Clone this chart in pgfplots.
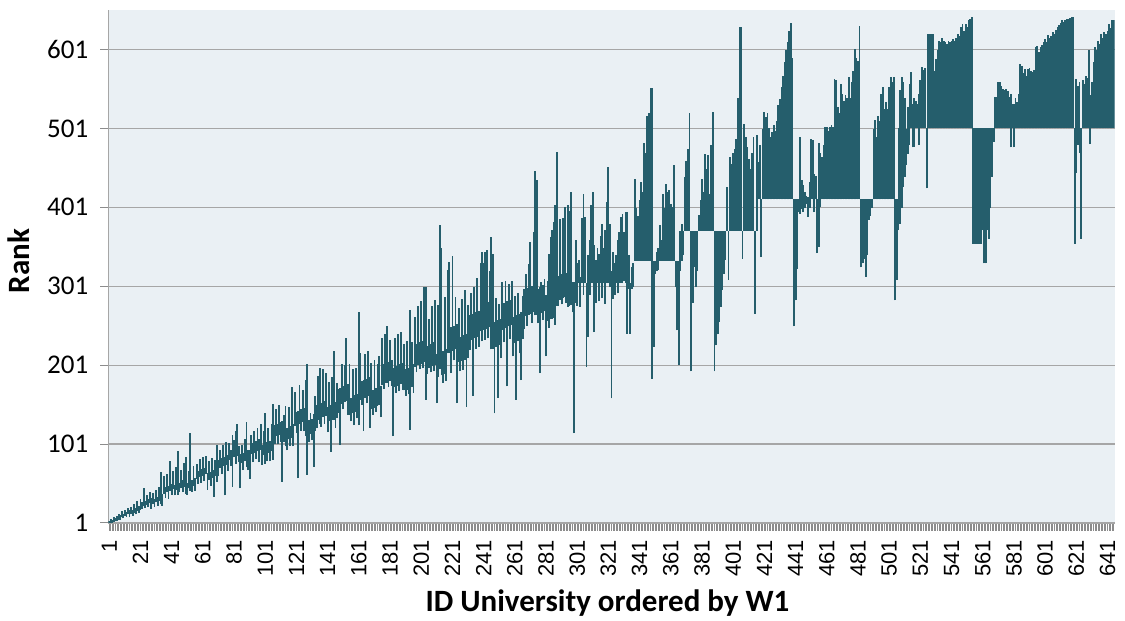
\documentclass[border=0pt]{standalone}
\usepackage{pgfplots}
\pgfplotsset{compat=1.18}
\usepackage{pgfplotstable}
\usepackage{fontspec}
\setmainfont{Carlito}
\newfontfamily\arialf{Liberation Sans}
\definecolor{barc}{HTML}{255E6C}
\definecolor{bgc}{HTML}{EAF0F4}
\definecolor{gridc}{HTML}{A6A6A6}
\definecolor{tickc}{HTML}{8C8C8C}

\pgfplotstableread[row sep=\\]{
lo hi\\
1 3\\ 1 6\\ 1 5\\ 2 9\\ 3 7\\ 3 10\\ 5 12\\
5 11\\ 8 16\\ 7 13\\ 10 18\\ 9 15\\ 12 20\\ 8 17\\
12 21\\ 10 17\\ 14 25\\ 12 20\\ 16 29\\ 14 22\\ 18 32\\
19 27\\ 22 45\\ 20 29\\ 24 36\\ 21 31\\ 26 40\\ 19 33\\
25 39\\ 21 32\\ 27 43\\ 23 34\\ 29 47\\ 25 65\\ 23 38\\
38 60\\ 33 46\\ 40 63\\ 32 48\\ 42 80\\ 37 50\\ 44 67\\
36 49\\ 43 72\\ 37 92\\ 40 52\\ 45 68\\ 40 55\\ 47 77\\
38 85\\ 37 52\\ 45 67\\ 42 115\\ 40 55\\ 48 73\\ 42 58\\
57 76\\ 51 67\\ 59 82\\ 52 69\\ 61 84\\ 54 71\\ 63 86\\
43 64\\ 56 79\\ 48 66\\ 58 83\\ 34 68\\ 60 81\\ 53 100\\
60 81\\ 71 94\\ 63 83\\ 73 100\\ 36 85\\ 75 103\\ 67 87\\
81 102\\ 73 93\\ 47 112\\ 84 106\\ 76 117\\ 86 127\\ 78 99\\
45 88\\ 77 100\\ 68 90\\ 79 108\\ 72 129\\ 68 93\\ 57 94\\
88 112\\ 78 102\\ 90 118\\ 82 105\\ 92 122\\ 78 107\\ 94 126\\
75 100\\ 87 118\\ 76 140\\ 79 103\\ 90 121\\ 79 105\\ 92 127\\
81 152\\ 101 125\\ 111 145\\ 101 127\\ 112 151\\ 104 129\\ 53 130\\
104 138\\ 98 149\\ 93 122\\ 107 148\\ 99 124\\ 109 173\\ 98 126\\
124 167\\ 115 142\\ 58 143\\ 127 176\\ 118 145\\ 129 169\\ 117 147\\
111 182\\ 62 203\\ 104 131\\ 114 140\\ 106 133\\ 72 139\\ 117 162\\
121 150\\ 132 187\\ 127 197\\ 123 153\\ 135 196\\ 127 155\\ 137 191\\
116 148\\ 130 180\\ 91 150\\ 131 186\\ 132 219\\ 122 154\\ 134 178\\
141 171\\ 100 172\\ 152 203\\ 145 174\\ 154 201\\ 155 236\\ 138 177\\
138 203\\ 130 160\\ 140 196\\ 125 163\\ 142 198\\ 134 165\\ 125 268\\
157 217\\ 151 181\\ 118 182\\ 160 215\\ 153 184\\ 162 219\\ 122 186\\
145 204\\ 138 170\\ 147 208\\ 142 172\\ 149 202\\ 150 212\\ 135 175\\
176 235\\ 171 202\\ 178 241\\ 179 251\\ 173 205\\ 181 233\\ 175 208\\
111 198\\ 173 236\\ 166 200\\ 175 240\\ 168 202\\ 177 243\\ 170 204\\
169 228\\ 162 196\\ 170 232\\ 164 198\\ 119 271\\ 173 230\\ 166 202\\
199 262\\ 192 228\\ 201 276\\ 196 230\\ 203 282\\ 198 232\\ 205 300\\
157 300\\ 190 225\\ 198 260\\ 192 228\\ 200 276\\ 194 230\\ 201 284\\
153 215\\ 186 277\\ 196 378\\ 188 349\\ 179 219\\ 190 287\\ 181 221\\
216 321\\ 217 332\\ 191 249\\ 219 339\\ 207 251\\ 221 287\\ 153 253\\
205 273\\ 193 237\\ 206 285\\ 195 239\\ 208 296\\ 148 241\\ 210 277\\
220 264\\ 233 292\\ 162 266\\ 235 300\\ 222 268\\ 237 312\\ 224 270\\
244 330\\ 231 344\\ 246 330\\ 233 344\\ 247 347\\ 235 281\\ 249 320\\
221 364\\ 222 342\\ 140 256\\ 224 286\\ 160 258\\ 226 278\\ 210 260\\
246 306\\ 230 280\\ 248 308\\ 174 282\\ 250 304\\ 234 284\\ 252 308\\
212 262\\ 229 288\\ 157 264\\ 231 292\\ 216 266\\ 182 268\\ 234 288\\
247 297\\ 263 317\\ 251 299\\ 265 329\\ 266 357\\ 255 301\\ 268 370\\
264 447\\ 265 435\\ 254 298\\ 191 300\\ 267 306\\ 258 302\\ 269 310\\
212 290\\ 257 308\\ 248 342\\ 259 364\\ 260 372\\ 261 382\\ 252 404\\
276 471\\ 276 314\\ 284 386\\ 278 316\\ 286 387\\ 287 402\\ 280 318\\
275 404\\ 276 396\\ 277 420\\ 268 306\\ 115 306\\ 280 360\\
276 330\\ 305 334\\ 275 313\\ 305 387\\ 290 418\\ 305 389\\ 199 305\\ 237 340\\ 290 360\\ 305 404\\
305 420\\ 243 353\\ 280 334\\ 305 350\\ 282 342\\ 305 365\\ 286 380\\ 305 350\\ 279 372\\ 305 408\\
305 452\\ 300 380\\ 159 320\\ 285 345\\ 290 330\\ 305 340\\ 292 360\\ 305 370\\ 305 389\\ 305 392\\
307 370\\ 305 395\\ 241 395\\ 298 340\\ 241 305\\ 298 325\\ 300 330\\
333 437\\ 333 400\\ 333 390\\ 333 410\\ 333 433\\ 333 420\\ 333 482\\ 333 470\\ 333 517\\ 333 520\\ 333 552\\
184 552\\ 224 333\\ 317 333\\ 320 345\\ 322 350\\ 333 378\\ 333 360\\ 333 418\\ 333 400\\ 333 431\\
333 420\\ 333 423\\ 333 405\\ 333 401\\ 333 454\\ 300 333\\ 245 333\\ 201 333\\
320 371\\ 333 380\\ 340 371\\ 371 440\\ 371 460\\ 371 475\\ 371 520\\ 193 371\\ 280 371\\ 325 371\\ 300 371\\ 320 371\\
371 391\\ 371 410\\ 371 437\\ 371 420\\ 371 469\\ 371 450\\ 371 467\\ 371 418\\ 371 480\\ 371 522\\
193 371\\ 226 371\\ 240 371\\ 256 371\\ 275 371\\ 296 371\\ 317 371\\ 334 371\\ 371 427\\ 309 371\\
371 465\\ 371 456\\ 371 470\\ 371 475\\ 371 488\\ 371 540\\ 371 630\\ 371 630\\ 336 371\\
371 507\\ 371 490\\ 371 477\\ 371 462\\ 371 450\\ 371 470\\ 371 490\\ 266 371\\ 371 492\\ 411 458\\ 411 480\\ 338 411\\
411 500\\ 411 522\\ 411 515\\ 411 520\\ 411 502\\ 411 490\\ 411 496\\ 411 505\\ 411 498\\ 411 510\\
411 530\\ 411 538\\ 411 553\\ 411 568\\ 411 585\\ 411 600\\ 411 610\\ 411 625\\ 411 634\\ 411 590\\
250 411\\ 283 411\\ 323 411\\ 395 411\\ 393 490\\ 399 435\\ 395 429\\ 400 420\\ 405 415\\ 389 414\\
400 433\\ 411 488\\ 411 486\\ 395 443\\ 411 441\\ 343 411\\ 351 482\\
401 470\\ 411 465\\ 411 480\\ 411 503\\ 411 503\\ 411 498\\ 411 503\\ 411 505\\ 411 503\\ 411 564\\
411 562\\ 411 528\\ 411 520\\ 411 557\\ 411 545\\ 411 536\\ 411 543\\ 411 540\\ 411 566\\ 411 539\\
411 560\\ 411 574\\ 411 602\\ 411 590\\ 411 587\\ 411 631\\
325 411\\ 330 411\\ 336 411\\ 313 411\\ 340 411\\ 385 411\\ 390 411\\ 400 411\\
411 500\\ 411 511\\ 411 490\\ 411 517\\ 411 510\\ 411 545\\ 411 553\\ 411 525\\ 411 534\\ 411 525\\
411 553\\ 411 566\\ 411 560\\ 411 566\\ 283 411\\ 309 411\\
372 501\\ 380 549\\ 400 566\\ 427 560\\ 440 540\\ 455 500\\ 469 528\\ 480 557\\ 501 572\\ 477 532\\
478 540\\ 501 536\\ 501 532\\ 480 545\\ 501 562\\ 501 579\\ 501 575\\ 501 578\\ 425 501\\ 501 621\\
501 621\\ 501 621\\ 501 620\\ 501 574\\ 501 589\\ 501 600\\ 501 612\\ 501 610\\ 501 615\\ 501 612\\
501 610\\ 501 608\\ 501 612\\ 501 610\\ 501 612\\ 501 614\\ 501 612\\ 501 615\\ 501 620\\ 501 618\\
501 629\\ 501 633\\ 501 625\\ 501 633\\ 501 630\\ 501 638\\ 501 640\\ 501 642\\
355 501\\ 355 501\\ 355 501\\ 355 501\\ 355 501\\ 355 501\\ 372 501\\ 330 501\\ 330 501\\ 372 501\\
361 501\\ 400 501\\ 440 501\\ 484 501\\
501 541\\ 501 541\\ 501 560\\ 501 560\\ 501 555\\ 501 551\\ 501 549\\ 501 551\\ 501 548\\ 501 541\\
477 545\\ 501 532\\ 477 532\\ 501 540\\ 501 535\\ 501 545\\ 501 583\\ 501 580\\ 501 571\\ 501 576\\
501 568\\ 501 576\\ 501 578\\ 501 574\\ 501 572\\ 501 575\\ 501 604\\ 501 606\\ 501 598\\ 501 604\\
501 607\\ 501 610\\ 501 614\\ 501 610\\ 501 619\\ 501 615\\ 501 618\\ 501 623\\ 501 620\\ 501 626\\
501 629\\ 501 632\\ 501 634\\ 501 638\\ 501 636\\ 501 638\\ 501 640\\ 501 639\\ 501 641\\ 501 642\\
501 642\\
355 501\\ 444 564\\ 480 555\\ 470 560\\ 361 501\\ 501 562\\ 501 557\\ 501 568\\ 501 565\\ 501 600\\
481 543\\ 501 560\\ 501 585\\ 501 604\\ 501 600\\ 501 612\\ 501 608\\ 501 621\\ 501 615\\ 501 623\\
501 621\\ 501 625\\ 501 633\\ 501 628\\ 501 638\\ 501 638\\
}\data

\begin{document}
\begin{tikzpicture}
\useasboundingbox (-108.5pt,-98pt) rectangle (1016.5pt,523pt);
\begin{axis}[
  at={(0pt,0pt)}, anchor=south west,
  scale only axis, width=1006pt, height=513pt,
  xmin=0.5, xmax=645.5, ymin=1, ymax=651,
  axis x line*=bottom, axis y line*=left,
  axis line style={draw=gridc, line width=1.2pt, -},
  axis background/.style={fill=bgc},
  ytick={1,101,...,601},
  ymajorgrids, grid style={draw=gridc, line width=1.2pt},
  xtick={1,21,...,641},
  minor xtick={1,...,645},
  tick align=outside,
  major tick length=8pt, minor tick length=8pt,
  every tick/.style={draw=tickc, line width=1pt},
  /pgf/number format/assume math mode=true,
  yticklabel style={font=\fontsize{27}{27}\selectfont, inner sep=0pt, anchor=east},
  yticklabel shift=12pt,
  xticklabel style={font=\arialf\fontsize{22}{22}\selectfont, rotate=90, anchor=east, inner sep=0pt},
  xticklabel shift=9pt,
]
\addplot[draw=none, mark=none,
  error bars/.cd, y dir=plus, y explicit, error mark=none,
  error bar style={draw=barc, line width=1.85pt}]
  table[x expr=\coordindex+1, y=lo, y error plus expr=\thisrow{hi}-\thisrow{lo}] {\data};
\end{axis}
\node[font=\fontsize{31}{31}\selectfont\bfseries, rotate=90, anchor=base] at (-78.5pt,262pt) {Rank};
\node[font=\fontsize{31}{31}\selectfont\bfseries, anchor=base] at (499pt,-89pt) {ID University ordered by W1};
\end{tikzpicture}
\end{document}
